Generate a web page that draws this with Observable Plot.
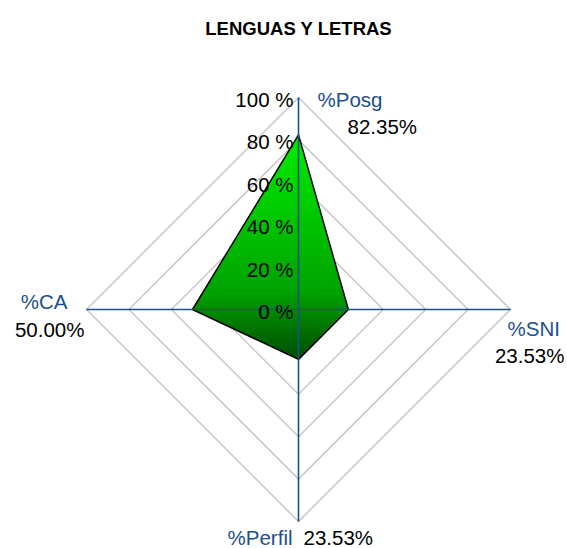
<!DOCTYPE html>
<html><head><meta charset="utf-8">
<script src="https://cdn.jsdelivr.net/npm/d3@7"></script>
<script src="https://cdn.jsdelivr.net/npm/@observablehq/plot@0.6"></script>
<style>body{margin:0;background:#fff;} svg{display:block}</style>
</head><body><div id="chart"></div>
<script>
const title = "LENGUAS Y LETRAS";
const axisNames = ["%Posg", "%SNI", "%Perfil", "%CA"];
const values = [82.35, 23.53, 23.53, 50.00];
const valueLabels = ["82.35%", "23.53%", "23.53%", "50.00%"];
const tickLevels = [0, 20, 40, 60, 80, 100];
const tickLabels = ["0 %", "20 %", "40 %", "60 %", "80 %", "100 %"];
const maxValue = 100;

// label placement (pixels) per axis: [name, value]
const labelLayout = [
  {name: {dx: 19, dy: 3, anchor: "start"}, value: {dx: 49, dy: 30, anchor: "start"}},
  {name: {dx: -3, dy: 20, anchor: "start"}, value: {dx: 54, dy: 47, anchor: "end"}},
  {name: {dx: -6, dy: 17, anchor: "end"}, value: {dx: 5, dy: 17, anchor: "start"}},
  {name: {dx: -19, dy: -7, anchor: "end"}, value: {dx: -2, dy: 21, anchor: "end"}}
];

const n = axisNames.length;
const ang = i => (2 * Math.PI * i) / n;
const px = (r, i) => r * Math.sin(ang(i));
const py = (r, i) => r * Math.cos(ang(i));

const axisEnds = axisNames.map((name, i) => ({name, i, x: px(1, i), y: py(1, i), value: valueLabels[i]}));
const grid = tickLevels.filter(t => t > 0).flatMap(t =>
  axisNames.map((_, i) => ({level: t, x: px(t / maxValue, i), y: py(t / maxValue, i)})));
const poly = values.map((v, i) => ({x: px(v / maxValue, i), y: py(v / maxValue, i)}));
const tickData = tickLevels.map((t, k) => ({x: 0, y: t / maxValue, label: tickLabels[k]}));

const blue = "#1d4f8f";
const fontSize = 20.5;

const marks = [
  Plot.line(grid, {x: "x", y: "y", z: "level", curve: "linear-closed", stroke: "#c8c8c8", strokeWidth: 1.5}),
  Plot.line(poly, {x: "x", y: "y", curve: "linear-closed", fill: "url(#polyGrad)", stroke: "#000", strokeWidth: 1.5}),
  Plot.link(axisEnds, {x1: 0, y1: 0, x2: "x", y2: "y", stroke: blue, strokeWidth: 1.6}),
  Plot.text(tickData, {x: "x", y: "y", text: "label", textAnchor: "end", dx: -5, dy: 3, fontSize, fill: "#000"}),
  Plot.text([title], {frameAnchor: "top", dy: -76, text: d => d, fontSize: 18.5, fontWeight: "bold", fill: "#000"})
];
axisEnds.forEach((d, i) => {
  const L = labelLayout[i];
  marks.push(Plot.text([d], {x: "x", y: "y", text: "name", textAnchor: L.name.anchor, dx: L.name.dx, dy: L.name.dy, fontSize, fill: blue}));
  marks.push(Plot.text([d], {x: "x", y: "y", text: "value", textAnchor: L.value.anchor, dx: L.value.dx, dy: L.value.dy, fontSize, fill: "#000"}));
});

const chart = Plot.plot({
  width: 567,
  height: 548,
  marginLeft: 86,
  marginRight: 57,
  marginTop: 97,
  marginBottom: 27,
  x: {domain: [-1, 1], axis: null},
  y: {domain: [-1, 1], axis: null},
  style: {fontFamily: "'Liberation Sans', Arial, sans-serif", background: "#fff"},
  marks
});

const defs = d3.select(chart).insert("defs", ":first-child");
const g = defs.append("linearGradient").attr("id", "polyGrad").attr("x1", 0).attr("y1", 0).attr("x2", 0).attr("y2", 1);
g.append("stop").attr("offset", "0%").attr("stop-color", "#00ee00");
g.append("stop").attr("offset", "70%").attr("stop-color", "#00a200");
g.append("stop").attr("offset", "100%").attr("stop-color", "#004c00");

document.getElementById("chart").appendChild(chart);
</script>
</body></html>
